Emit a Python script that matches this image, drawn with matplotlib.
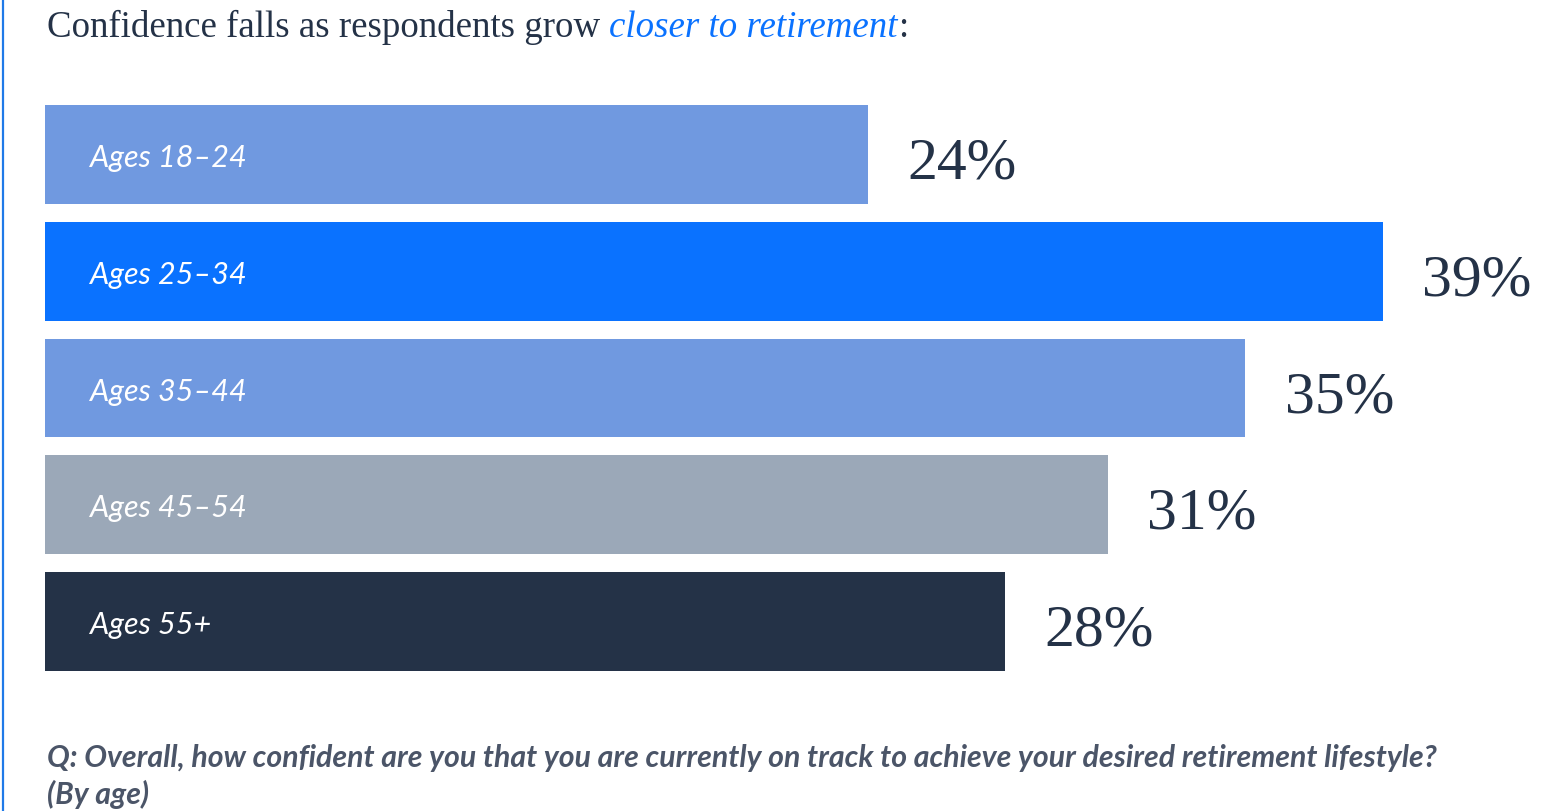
import matplotlib
matplotlib.use("Agg")
import matplotlib.pyplot as plt
from matplotlib.lines import Line2D

ages = ["Ages 18–24", "Ages 25–34", "Ages 35–44", "Ages 45–54", "Ages 55+"]
values = [24, 39, 35, 31, 28]
colors = ["#7099e0", "#0a72ff", "#7099e0", "#9ba8b8", "#243247"]

dark = "#243247"
W, H = 1553, 812

fig = plt.figure(figsize=(W / 100, H / 100), dpi=100)
fig.patch.set_facecolor("white")

# axes spans pixel x 45..1553, y 106..672 (from top)
ax = fig.add_axes([45 / W, 1 - 672 / H, (W - 45) / W, 566 / H])
px_per_unit = 34.3
ax.set_xlim(0, (W - 45) / px_per_unit)
ax.set_ylim(len(values) - 1 + 0.423, -0.423)
ax.axis("off")

pos = list(range(len(values)))
ax.barh(pos, values, height=0.846, color=colors, edgecolor="none")

for p, lab, v in zip(pos, ages, values):
    ax.text(1.31, p + 0.10, lab, color="white", fontsize=22, family="Lato",
            style="italic", va="baseline", ha="left")
    ax.text(v + 1.14, p + 0.197, f"{v}%", color=dark, fontsize=43,
            family="Liberation Serif", va="baseline", ha="left")

# title, with the highlighted part in blue italic
ty = 1 - 37 / H
t1 = fig.text(47 / W, ty, "Confidence falls as respondents grow ",
              color=dark, fontsize=26.6, family="Liberation Serif", va="baseline")
fig.canvas.draw()
r = fig.canvas.get_renderer()
bb = t1.get_window_extent(r)
t2 = fig.text(bb.x1 / W, ty, "closer to retirement", color="#0a72ff",
              fontsize=26.6, family="Liberation Serif", style="italic", va="baseline")
bb2 = t2.get_window_extent(r)
fig.text(bb2.x1 / W, ty, ":", color=dark, fontsize=26.6,
         family="Liberation Serif", va="baseline")

# question footnote
fig.text(47 / W, 1 - 767 / H,
         "Q: Overall, how confident are you that you are currently on track to achieve your desired retirement lifestyle?",
         color="#4b5568", fontsize=21.8, family="Lato", style="italic",
         weight="bold", va="baseline")
fig.text(47 / W, 1 - 804 / H, "(By age)", color="#4b5568", fontsize=21.8,
         family="Lato", style="italic", weight="bold", va="baseline")

# blue rule on the left edge
fig.add_artist(Line2D([3 / W, 3 / W], [0, 1], color="#1f7ae8", lw=1.6))

fig.savefig("out.png", dpi=100)
